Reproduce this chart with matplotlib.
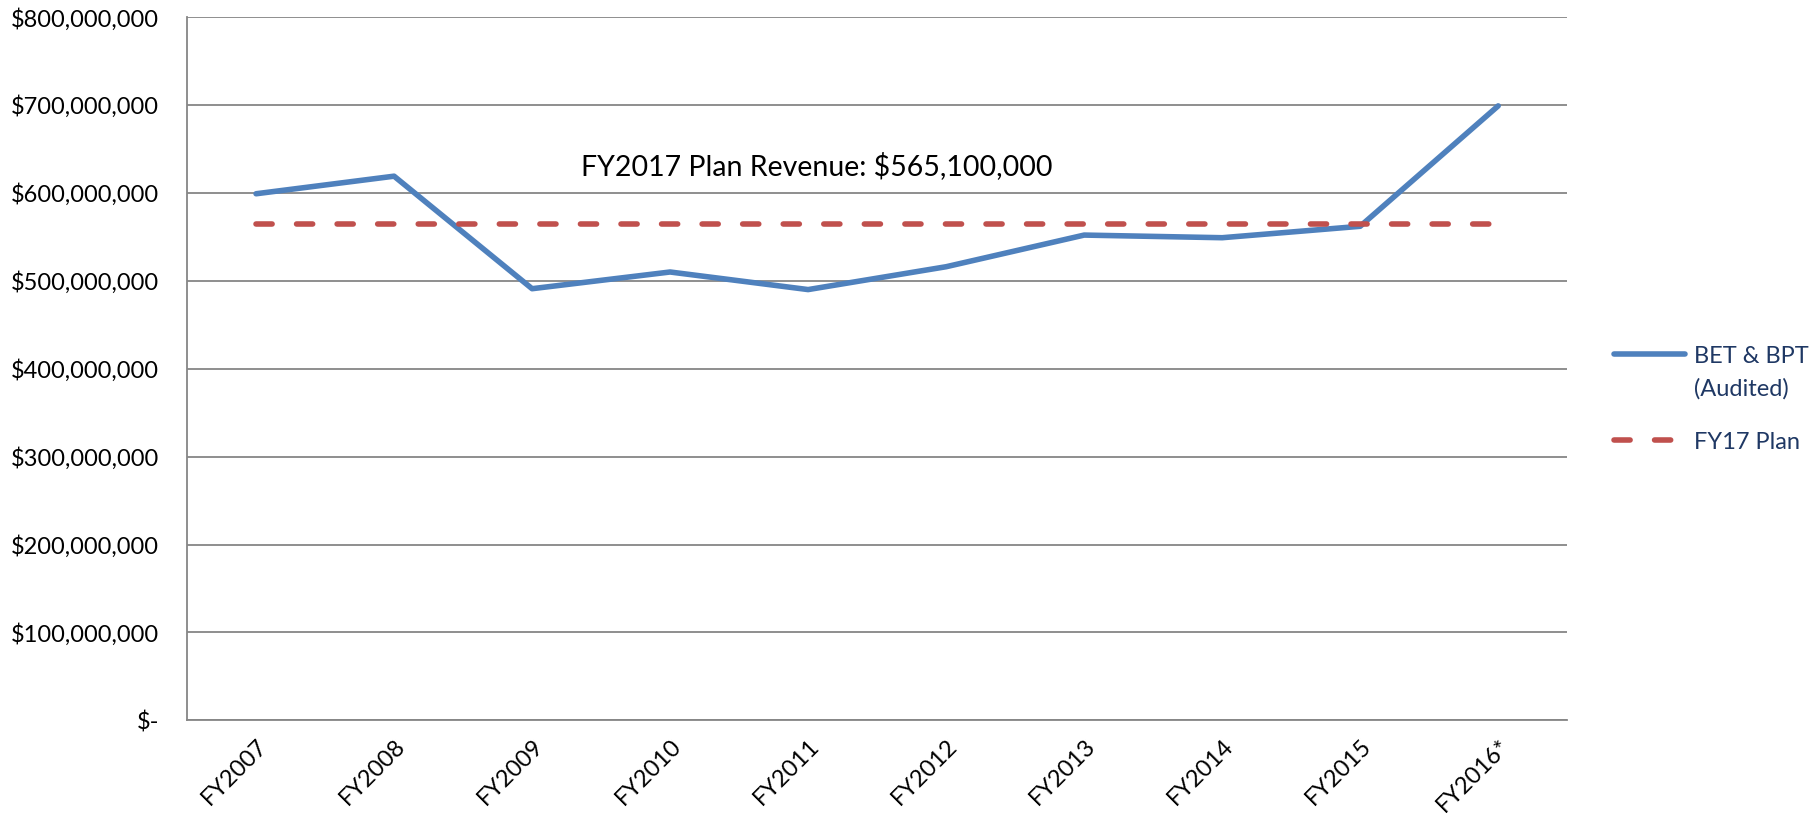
import matplotlib
matplotlib.use("Agg")
import matplotlib.pyplot as plt
from matplotlib.text import Annotation
from matplotlib.ticker import FuncFormatter

years = ["FY2007", "FY2008", "FY2009", "FY2010", "FY2011",
         "FY2012", "FY2013", "FY2014", "FY2015", "FY2016*"]
audited = [599e6, 619e6, 491e6, 510e6, 490e6, 516e6, 552e6, 549e6, 562e6, 699e6]
plan = [565.1e6] * len(years)
plan_note = "FY2017 Plan Revenue: $565,100,000"

plt.rcParams["font.family"] = ["Lato", "DejaVu Sans"]

fig = plt.figure(figsize=(18.16, 8.13), dpi=100)
ax = fig.add_axes([0.103, 0.114, 0.760, 0.865])

x = list(range(len(years)))
ax.plot(x, audited, color="#4F81BD", lw=4, solid_capstyle="round",
        label="BET & BPT")
ax.plot(x, plan, color="#C0504D", lw=4, dashes=(2.9, 4.4),
        dash_capstyle="round", label="FY17 Plan")

ax.set_xlim(-0.5, len(years) - 0.5)
ax.set_ylim(0, 800e6)
ax.set_yticks([i * 100e6 for i in range(9)])


def money(v, pos):
    if v == 0:
        return "$-"
    return "${:,.0f}".format(v)


ax.yaxis.set_major_formatter(FuncFormatter(money))
ax.set_xticks(x)
ax.set_xticklabels(years, rotation=45, ha="right", va="top",
                   rotation_mode="anchor")
ax.tick_params(axis="both", length=0, labelsize=17, colors="black")
ax.tick_params(axis="y", pad=20)
ax.tick_params(axis="x", pad=11)
ax.yaxis.grid(True, color="#868686", lw=1.3)
ax.set_axisbelow(True)
for s in ["top", "right"]:
    ax.spines[s].set_visible(False)
for s in ["left", "bottom"]:
    ax.spines[s].set_color("#868686")
    ax.spines[s].set_linewidth(1.3)

ax.text(4.06, 631e6, plan_note, ha="center", va="center", fontsize=20.5)

leg = fig.legend(loc="center left", bbox_to_anchor=(0.877, 0.509),
                 frameon=False, fontsize=17, handlelength=3.0,
                 labelspacing=2.75, handletextpad=0.4)
for t in leg.get_texts():
    t.set_color("#1F3864")
# second line of the first legend label, drawn after the legend
second = Annotation("(Audited)", xy=(0, 0), xycoords=leg.get_texts()[0],
                    xytext=(0, -8), textcoords="offset points",
                    ha="left", va="top", fontsize=17, color="#1F3864",
                    zorder=10)
fig.add_artist(second)

fig.savefig("out.png", dpi=100)
